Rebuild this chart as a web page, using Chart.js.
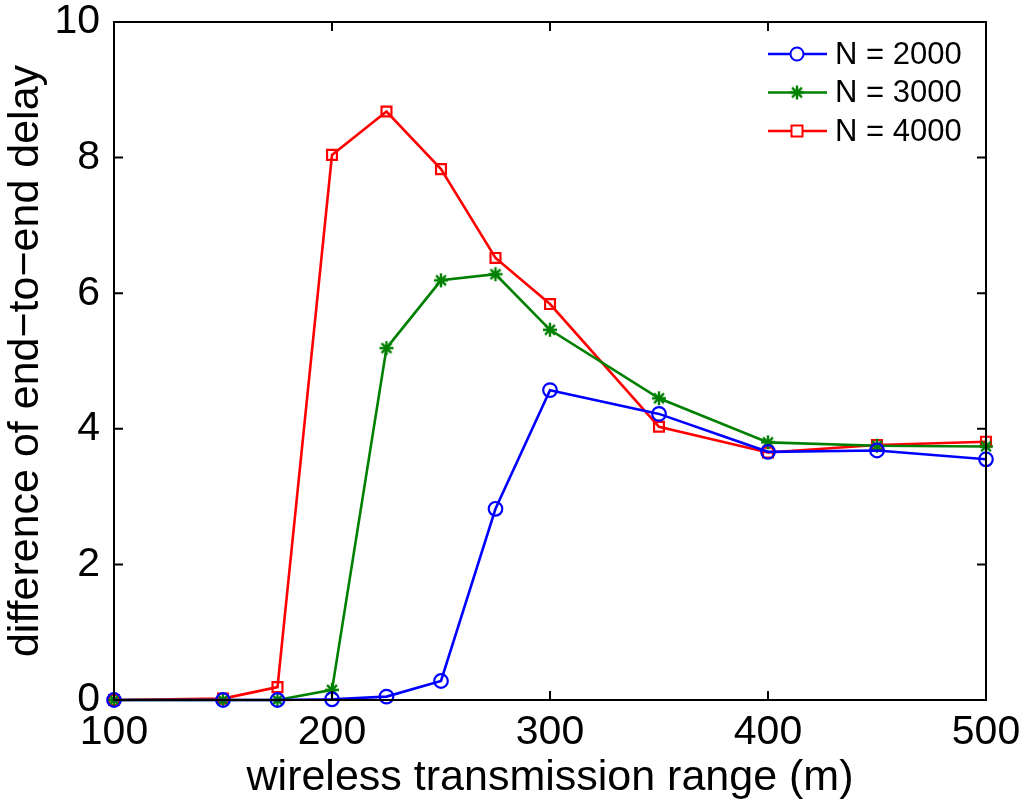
<!DOCTYPE html>
<html>
<head>
<meta charset="utf-8">
<script src="https://cdn.jsdelivr.net/npm/chart.js@4"></script>
<style>
  html, body { margin: 0; padding: 0; background: #fff; }
  #wrap { width: 1024px; height: 806px; }
</style>
</head>
<body>
<div id="wrap"><canvas id="chart"></canvas></div>
<script>
const rangeX = [100, 150, 175, 200, 225, 250, 275, 300, 350, 400, 450, 500];
const delayN2000 = [0, 0, 0, 0.01, 0.05, 0.28, 2.82, 4.57, 4.22, 3.66, 3.68, 3.55];
const delayN3000 = [0, 0, 0, 0.15, 5.19, 6.19, 6.28, 5.46, 4.45, 3.80, 3.75, 3.74];
const delayN4000 = [0, 0.02, 0.19, 8.04, 8.68, 7.83, 6.52, 5.84, 4.03, 3.65, 3.76, 3.81];
const seriesLabels = ["N = 2000", "N = 3000", "N = 4000"];
const xTicks = [100, 200, 300, 400, 500];
const yTicks = [0, 2, 4, 6, 8, 10];

const FONT = "'Liberation Sans', Arial, sans-serif";

const toPoints = (ys) => rangeX.map((x, i) => ({ x: x, y: ys[i] }));

// asterisk marker like matlab's '*'
const star = document.createElement("canvas");
star.width = 18;
star.height = 18;
(function () {
  const c = star.getContext("2d");
  c.strokeStyle = "#008000";
  c.lineWidth = 2.4;
  c.beginPath();
  for (let k = 0; k < 4; k++) {
    const a = (k * Math.PI) / 4 + Math.PI / 2;
    c.moveTo(9 - 7 * Math.cos(a), 9 - 7 * Math.sin(a));
    c.lineTo(9 + 7 * Math.cos(a), 9 + 7 * Math.sin(a));
  }
  c.stroke();
})();

// inward ticks on all four sides + legend
const matlabAxes = {
  id: "matlabAxes",
  afterDraw(chart) {
    const ctx = chart.ctx;
    const a = chart.chartArea;
    const sx = chart.scales.x;
    const sy = chart.scales.y;
    ctx.save();
    ctx.strokeStyle = "#000";
    ctx.lineWidth = 2;
    ctx.beginPath();
    xTicks.forEach((v) => {
      const p = sx.getPixelForValue(v);
      ctx.moveTo(p, a.bottom);
      ctx.lineTo(p, a.bottom - 9);
      ctx.moveTo(p, a.top);
      ctx.lineTo(p, a.top + 9);
    });
    yTicks.forEach((v) => {
      const p = sy.getPixelForValue(v);
      ctx.moveTo(a.left, p);
      ctx.lineTo(a.left + 9, p);
      ctx.moveTo(a.right, p);
      ctx.lineTo(a.right - 9, p);
    });
    ctx.stroke();
    ctx.strokeRect(a.left, a.top, a.right - a.left, a.bottom - a.top);

    // legend
    ctx.font = "31px " + FONT;
    ctx.textBaseline = "middle";
    chart.data.datasets.forEach((ds, i) => {
      const y = 54 + i * 38.5;
      ctx.strokeStyle = ds.borderColor;
      ctx.lineWidth = 2.5;
      ctx.beginPath();
      ctx.moveTo(768, y);
      ctx.lineTo(827, y);
      ctx.stroke();
      const cx = 797;
      ctx.lineWidth = 2;
      if (ds.pointStyle === "circle") {
        ctx.beginPath();
        ctx.arc(cx, y, 6.5, 0, Math.PI * 2);
        ctx.fillStyle = "#fff";
        ctx.fill();
        ctx.stroke();
      } else if (ds.pointStyle === "rect") {
        ctx.fillStyle = "#fff";
        ctx.fillRect(cx - 5.5, y - 5.5, 11, 11);
        ctx.strokeRect(cx - 5.5, y - 5.5, 11, 11);
      } else {
        ctx.drawImage(star, cx - 9, y - 9);
      }
      ctx.fillStyle = "#000";
      ctx.fillText(ds.label, 835, y + 1);
    });
    ctx.restore();
  },
};

const lineSet = (label, ys, color, style, radius) => ({
  label: label,
  data: toPoints(ys),
  showLine: true,
  clip: false,
  borderColor: color,
  backgroundColor: "rgba(255,255,255,0)",
  borderWidth: 2.6,
  pointStyle: style,
  pointRadius: radius,
  pointBorderWidth: 2.2,
  pointBorderColor: color,
  tension: 0,
});

const ctxChart = document.querySelector("#chart").getContext("2d");

new Chart(ctxChart, {
  type: "scatter",
  data: {
    datasets: [
      lineSet(seriesLabels[0], delayN2000, "#0000ff", "circle", 6.8),
      lineSet(seriesLabels[1], delayN3000, "#008000", star, 9),
      lineSet(seriesLabels[2], delayN4000, "#ff0000", "rect", 7),
    ],
  },
  options: {
    responsive: true,
    maintainAspectRatio: false,
    animation: false,
    layout: { padding: { top: 22, right: 38, left: 0, bottom: 0 } },
    plugins: {
      legend: { display: false },
      tooltip: { enabled: false },
    },
    scales: {
      x: {
        type: "linear",
        min: 100,
        max: 500,
        afterBuildTicks: (s) => { s.ticks = xTicks.map((v) => ({ value: v })); },
        afterFit: (s) => { s.height = 106; s.paddingLeft = 0; s.paddingRight = 0; },
        grid: { display: false, drawTicks: false },
        border: { display: false },
        ticks: { color: "#000", font: { family: FONT, size: 41, lineHeight: 1.2 }, padding: 8, maxRotation: 0 },
        title: {
          display: true,
          text: "wireless transmission range (m)",
          color: "#000",
          font: { family: FONT, size: 43, lineHeight: 1.2 },
          padding: { top: 0, bottom: 2 },
        },
      },
      y: {
        min: 0,
        max: 10,
        afterBuildTicks: (s) => { s.ticks = yTicks.map((v) => ({ value: v })); },
        afterFit: (s) => { s.width = 114; s.paddingTop = 0; s.paddingBottom = 0; },
        grid: { display: false, drawTicks: false },
        border: { display: false },
        ticks: { color: "#000", font: { family: FONT, size: 41, lineHeight: 1.2 }, padding: 14 },
        title: {
          display: true,
          text: "difference of end\u2212to\u2212end delay",
          color: "#000",
          font: { family: FONT, size: 43, lineHeight: 1.2 },
          padding: { top: 0, bottom: 0 },
        },
      },
    },
  },
  plugins: [matlabAxes],
});
</script>
</body>
</html>
